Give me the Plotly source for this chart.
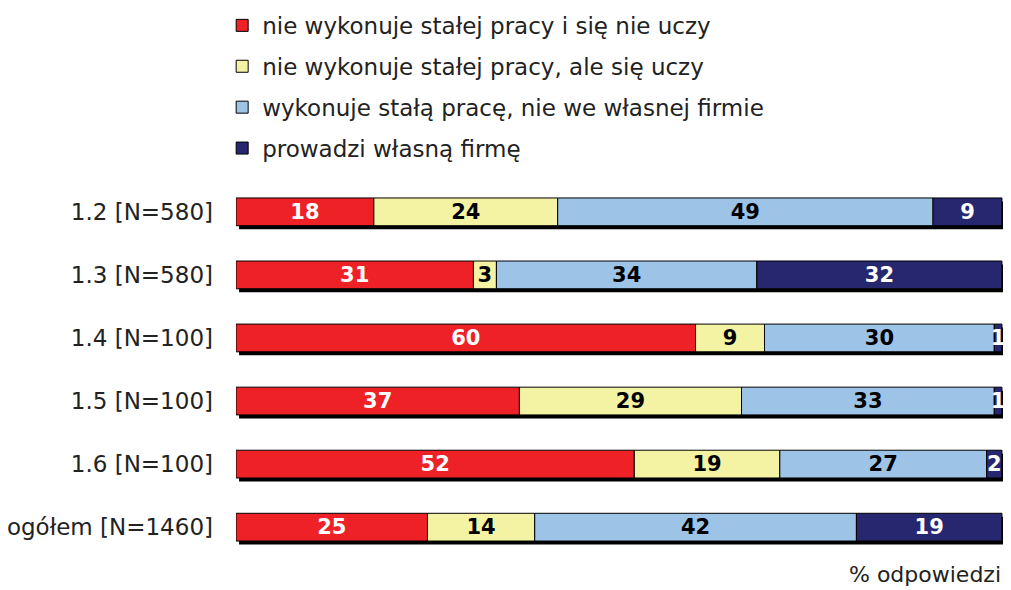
import plotly.graph_objects as go

categories = ["1.2 [N=580]", "1.3 [N=580]", "1.4 [N=100]", "1.5 [N=100]", "1.6 [N=100]", "ogółem [N=1460]"]
series_names = [
    "nie wykonuje stałej pracy i się nie uczy",
    "nie wykonuje stałej pracy, ale się uczy",
    "wykonuje stałą pracę, nie we własnej firmie",
    "prowadzi własną firmę",
]
s1 = [18, 31, 60, 37, 52, 25]
s2 = [24, 3, 9, 29, 19, 14]
s3 = [49, 34, 30, 33, 27, 42]
s4 = [9, 32, 1, 1, 2, 19]
series_values = [s1, s2, s3, s4]
colors = ["#EE2226", "#F4F3A4", "#9DC3E6", "#27276F"]
text_colors = ["white", "black", "black", "white"]

FONT = "DejaVu Sans"
TXT = "#222222"
ypos = list(range(len(categories)))
totals = [sum(v[i] for v in series_values) for i in ypos]

fig = go.Figure()

# shadow behind each stacked bar (3D effect)
fig.add_trace(go.Bar(
    y=[p + 0.055 for p in ypos], x=totals, base=[0.4] * len(ypos),
    orientation="h", width=0.44, marker=dict(color="black", line=dict(width=0)),
    showlegend=False, hoverinfo="skip",
))

bases = [0] * len(ypos)
for name, vals, col, tc in zip(series_names, series_values, colors, text_colors):
    fig.add_trace(go.Bar(
        y=ypos, x=vals, base=list(bases), orientation="h", width=0.44,
        name=name, legendgroup=name,
        marker=dict(color=col, line=dict(color="black", width=1)),
        text=[str(v) for v in vals], textposition="inside", insidetextanchor="middle",
        textangle=0, constraintext="none", cliponaxis=False,
        textfont=dict(family=FONT, size=21, color=tc, weight="bold"),
    ))
    bases = [b + v for b, v in zip(bases, vals)]

fig.update_layout(
    barmode="overlay",
    width=1003, height=582,
    margin=dict(l=228, r=6, t=166, b=25, autoexpand=False),
    paper_bgcolor="white", plot_bgcolor="white",
    font=dict(family=FONT, size=23, color=TXT),
    showlegend=True,
    legend=dict(
        x=-0.018, xanchor="left", y=1.435, yanchor="top",
        traceorder="grouped", tracegroupgap=8,
        font=dict(family=FONT, size=23, color=TXT),
        bgcolor="rgba(0,0,0,0)",
    ),
    xaxis=dict(range=[0, 100.4], visible=False, fixedrange=True, automargin=False),
    yaxis=dict(
        range=[5.6, -0.6], tickmode="array", tickvals=ypos, ticktext=categories,
        showgrid=False, zeroline=False, showline=False, ticks="", automargin=False,
        ticklabelstandoff=22, tickfont=dict(family=FONT, size=23, color=TXT),
    ),
    annotations=[dict(
        text="% odpowiedzi", xref="paper", yref="paper", x=0.997, y=0.0,
        xanchor="right", yanchor="top", yshift=5, showarrow=False,
        font=dict(family=FONT, size=22, color=TXT),
    )],
)

fig.write_html("out.html")
